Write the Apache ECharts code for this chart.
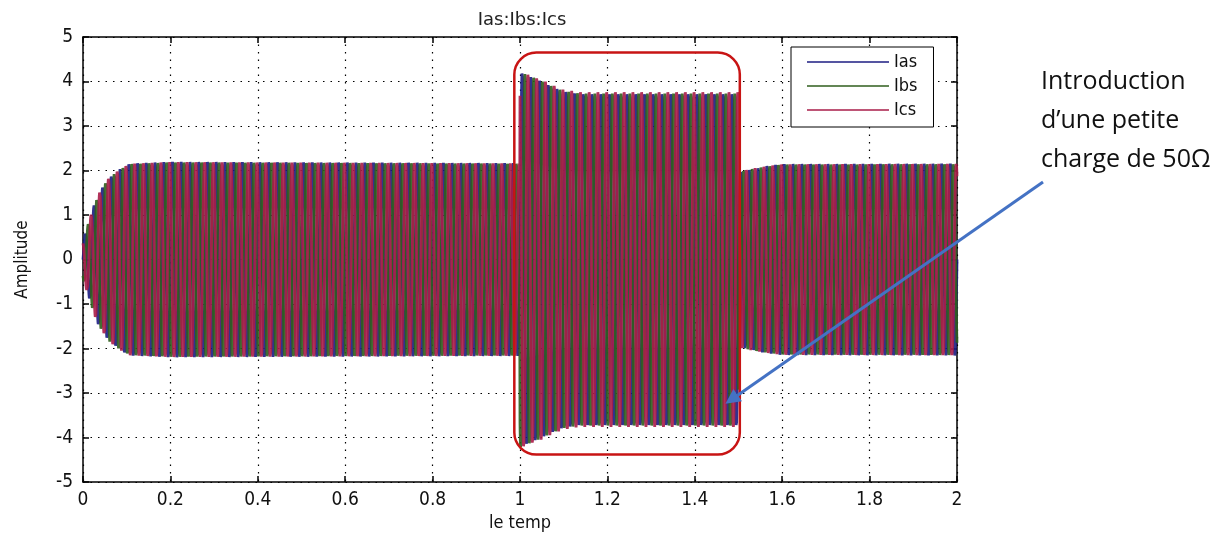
<!DOCTYPE html>
<html>
<head>
<meta charset="utf-8">
<style>
  html, body { margin: 0; padding: 0; background: #ffffff; }
  #chart { width: 1222px; height: 537px; }
</style>
<script src="https://cdn.jsdelivr.net/npm/echarts@6/dist/echarts.min.js"></script>
</head>
<body>
<div id="chart"></div>
<script>
// Stator currents of the three phases (A), 0 to 2 s.
// Peak amplitude of the currents over time (s -> A); a 50 Ω load is switched in at 1.0 s and out at 1.5 s.
const envTime = [0, 0.016, 0.027, 0.039, 0.06, 0.085, 0.107, 0.2, 0.9995, 1.0, 1.046, 1.072, 1.098, 1.137, 1.4995, 1.5, 1.53, 1.56, 1.6, 2.0];
const envAmp  = [0.42, 0.93, 1.27, 1.56, 1.85, 2.04, 2.16, 2.2, 2.17, 4.25, 4.06, 3.93, 3.82, 3.76, 3.76, 1.98, 2.05, 2.1, 2.15, 2.16];
// Supply frequency (Hz) and phase shift of each phase (degrees)
const supplyFreq = 50;
const seriesNames = ['Ias', 'Ibs', 'Ics'];
const phaseShift = [0, -120, 120];
const seriesColors = ['#1c1c82', '#2f5e1c', '#a81c48'];
// Tick labels
const xTickLabels = ['0', '0.2', '0.4', '0.6', '0.8', '1', '1.2', '1.4', '1.6', '1.8', '2'];
const yTickLabels = ['-5', '-4', '-3', '-2', '-1', '0', '1', '2', '3', '4', '5'];
// Callout text
const noteLines = ['Introduction', 'd\u2019une petite', 'charge de 50\u03A9'];

const sampleStep = 0.00025;

function envelopeAt(t) {
  for (let i = 1; i < envTime.length; i++) {
    if (t <= envTime[i]) {
      const t0 = envTime[i - 1], t1 = envTime[i];
      const f = (t - t0) / (t1 - t0);
      return envAmp[i - 1] + f * (envAmp[i] - envAmp[i - 1]);
    }
  }
  return envAmp[envAmp.length - 1];
}

function phaseCurrent(k) {
  const pts = [];
  const n = Math.round(2 / sampleStep);
  const ph = phaseShift[k] * Math.PI / 180;
  for (let i = 0; i <= n; i++) {
    const t = i * sampleStep;
    pts.push([t, envelopeAt(t) * Math.sin(2 * Math.PI * supplyFreq * t + ph)]);
  }
  return pts;
}

const narrow = "'Liberation Sans Narrow', 'DejaVu Sans Condensed', 'Liberation Sans', sans-serif";
const chart = echarts.init(document.getElementById('chart'), null, { renderer: 'canvas' });

const grid = { left: 83, right: 265, top: 37, bottom: 50 };

const option = {
  animation: false,
  backgroundColor: '#ffffff',
  title: {
    text: 'Ias:Ibs:Ics',
    left: 517,
    top: 6,
    textAlign: 'center',
    textStyle: { fontFamily: "'DejaVu Sans', sans-serif", fontSize: 18, fontWeight: 'normal', color: '#222' }
  },
  grid: grid,
  legend: {
    data: seriesNames,
    orient: 'vertical',
    left: 791,
    top: 47,
    icon: 'rect',
    itemWidth: 82,
    itemHeight: 1.5,
    itemGap: 6,
    padding: [6, 16, 8, 16],
    borderColor: '#000',
    borderWidth: 1,
    backgroundColor: '#ffffff',
    textStyle: { fontFamily: narrow, fontSize: 18, color: '#111', lineHeight: 18 }
  },
  xAxis: [
    {
      type: 'value', min: 0, max: 2, interval: 0.2, position: 'bottom',
      name: 'le temp', nameLocation: 'middle', nameGap: 29,
      nameTextStyle: { fontFamily: narrow, fontSize: 18, color: '#111' },
      axisLine: { show: true, onZero: false, lineStyle: { color: '#000', width: 1.5 } },
      axisTick: { show: true, inside: true, length: 6, lineStyle: { color: '#000', width: 1.5 } },
      axisLabel: { margin: 8, fontFamily: narrow, fontSize: 19, color: '#111',
        formatter: (v) => xTickLabels[Math.round(v / 0.2)] },
      splitLine: { show: true, lineStyle: { color: '#000', width: 1.2, type: [1.5, 6] } }
    },
    {
      type: 'value', min: 0, max: 2, interval: 0.2, position: 'top',
      axisLine: { show: true, onZero: false, lineStyle: { color: '#000', width: 1.5 } },
      axisTick: { show: true, inside: true, length: 6, lineStyle: { color: '#000', width: 1.5 } },
      axisLabel: { show: false },
      splitLine: { show: false }
    }
  ],
  yAxis: [
    {
      type: 'value', min: -5, max: 5, interval: 1, position: 'left',
      name: 'Amplitude', nameLocation: 'middle', nameGap: 52,
      nameTextStyle: { fontFamily: narrow, fontSize: 17, color: '#111' },
      axisLine: { show: true, onZero: false, lineStyle: { color: '#000', width: 1.5 } },
      axisTick: { show: true, inside: true, length: 6, lineStyle: { color: '#000', width: 1.5 } },
      axisLabel: { margin: 10, fontFamily: narrow, fontSize: 19, color: '#111',
        formatter: (v) => yTickLabels[Math.round(v) + 5] },
      splitLine: { show: true, lineStyle: { color: '#000', width: 1.2, type: [1.5, 6] } }
    },
    {
      type: 'value', min: -5, max: 5, interval: 1, position: 'right',
      axisLine: { show: true, onZero: false, lineStyle: { color: '#000', width: 1.5 } },
      axisTick: { show: true, inside: true, length: 6, lineStyle: { color: '#000', width: 1.5 } },
      axisLabel: { show: false },
      splitLine: { show: false }
    }
  ],
  series: seriesNames.map((name, k) => ({
    name: name,
    type: 'line',
    xAxisIndex: 0,
    yAxisIndex: 0,
    data: phaseCurrent(k),
    showSymbol: false,
    symbol: 'none',
    sampling: null,
    large: false,
    progressive: 0,
    color: seriesColors[k],
    lineStyle: { width: 2.8, color: seriesColors[k], opacity: 0.9 },
    emphasis: { disabled: true }
  }))
};

chart.setOption(option);

// Callout: rounded frame around the loaded interval and an arrow with its note
const frameTL = chart.convertToPixel({ xAxisIndex: 0, yAxisIndex: 0 }, [0.987, 4.65]);
const frameBR = chart.convertToPixel({ xAxisIndex: 0, yAxisIndex: 0 }, [1.503, -4.38]);
const tip = chart.convertToPixel({ xAxisIndex: 0, yAxisIndex: 0 }, [1.47, -3.24]);
const tail = [1043, 182];
const dx = tip[0] - tail[0], dy = tip[1] - tail[1];
const len = Math.sqrt(dx * dx + dy * dy);
const ux = dx / len, uy = dy / len;
const headLen = 15, headHalf = 7.5;
const base = [tip[0] - headLen * ux, tip[1] - headLen * uy];
const nx = -uy, ny = ux;

const noteTops = [69, 108, 147];

chart.setOption({
  graphic: [
    {
      type: 'rect', z: 100,
      shape: { x: frameTL[0], y: frameTL[1], width: frameBR[0] - frameTL[0], height: frameBR[1] - frameTL[1], r: 22 },
      style: { fill: 'none', stroke: '#c81414', lineWidth: 2.5 }
    },
    {
      type: 'line', z: 100,
      shape: { x1: tail[0], y1: tail[1], x2: base[0], y2: base[1] },
      style: { stroke: '#4472c4', lineWidth: 3 }
    },
    {
      type: 'polygon', z: 100,
      shape: { points: [tip, [base[0] + headHalf * nx, base[1] + headHalf * ny], [base[0] - headHalf * nx, base[1] - headHalf * ny]] },
      style: { fill: '#4472c4' }
    }
  ].concat(noteLines.map((s, i) => ({
    type: 'text', z: 100,
    left: 1041, top: noteTops[i],
    style: { text: s, fontFamily: "'Open Sans', 'Noto Sans', sans-serif", fontSize: 25, fill: '#111' }
  })))
});
</script>
</body>
</html>
